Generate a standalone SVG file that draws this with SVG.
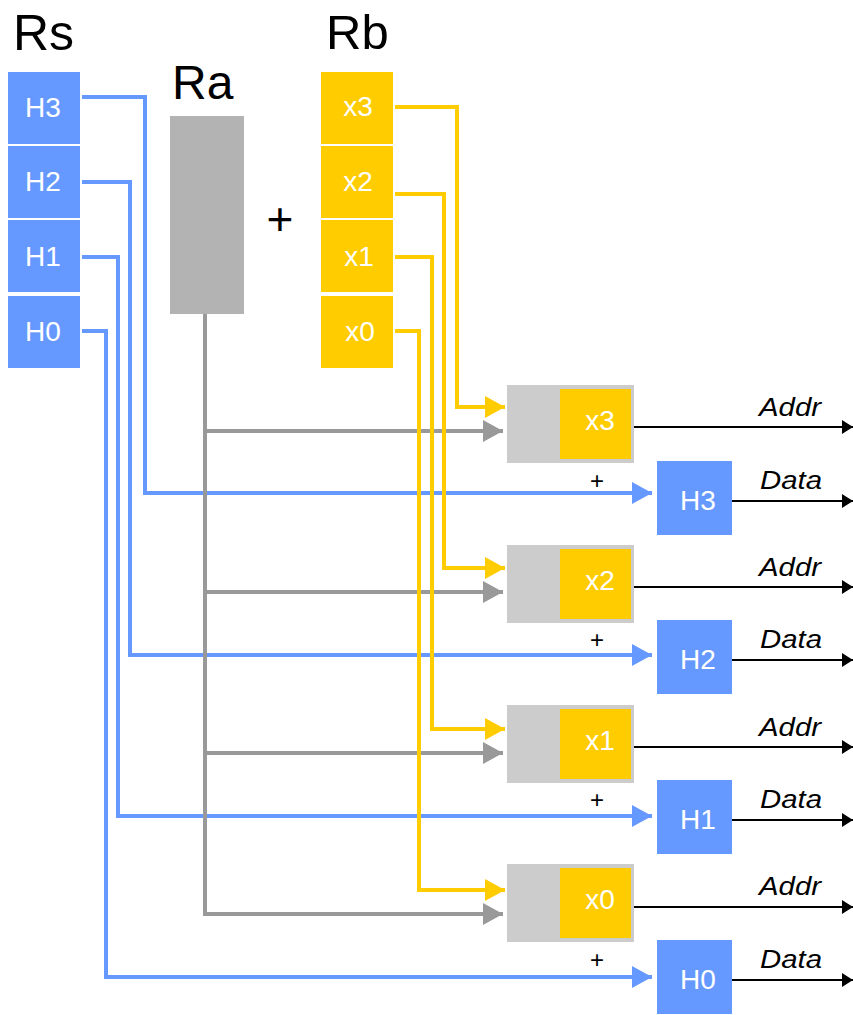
<svg xmlns="http://www.w3.org/2000/svg" width="853" height="1015" viewBox="0 0 853 1015">
<style>
text{font-family:"Liberation Sans",Arial,Helvetica,sans-serif;}
.big{font-size:50px;fill:#000;}
.lbl{font-size:28px;fill:#fff;text-anchor:middle;}
.io{font-size:26px;font-style:italic;fill:#000;}
.plus{fill:#000;text-anchor:middle;}
.blue{fill:#6699ff;}
.yel{fill:#ffcc00;}
.ra{fill:#b3b3b3;}
.blk{fill:#cccccc;}
.lb{fill:none;stroke:#6699ff;stroke-width:4;}
.ly{fill:none;stroke:#ffcc00;stroke-width:4;}
.lg{fill:none;stroke:#999999;stroke-width:4;}
.lk{fill:none;stroke:#000;stroke-width:2;}
</style>
<defs>
<marker id="ab" markerUnits="userSpaceOnUse" markerWidth="20" markerHeight="22" refX="20" refY="11" orient="auto"><path d="M0,0 L20,11 L0,22 z" fill="#6699ff"/></marker>
<marker id="ay" markerUnits="userSpaceOnUse" markerWidth="20" markerHeight="22" refX="20" refY="11" orient="auto"><path d="M0,0 L20,11 L0,22 z" fill="#ffcc00"/></marker>
<marker id="ag" markerUnits="userSpaceOnUse" markerWidth="20" markerHeight="22" refX="20" refY="11" orient="auto"><path d="M0,0 L20,11 L0,22 z" fill="#999999"/></marker>
<marker id="ak" markerUnits="userSpaceOnUse" markerWidth="11" markerHeight="14" refX="11" refY="7" orient="auto"><path d="M0,0 L11,7 L0,14 z" fill="#000"/></marker>
</defs>

<text class="big" x="13" y="50">Rs</text>
<text class="big" x="172" y="99" style="font-size:48px">Ra</text>
<text class="big" x="326" y="49" style="font-size:49px">Rb</text>
<text class="plus" x="280" y="235" style="font-size:46px">+</text>

<g id="Rs">
<g id="H3"><rect class="blue" x="8" y="72" width="72" height="72"/><text class="lbl" x="43" y="117">H3</text></g>
<g id="H2"><rect class="blue" x="8" y="146" width="72" height="72"/><text class="lbl" x="43" y="191">H2</text></g>
<g id="H1"><rect class="blue" x="8" y="220" width="72" height="72"/><text class="lbl" x="43" y="266">H1</text></g>
<g id="H0"><rect class="blue" x="8" y="296" width="72" height="72"/><text class="lbl" x="43" y="341">H0</text></g>
</g>
<g id="Ra"><rect class="ra" x="170" y="116" width="74" height="198"/></g>
<g id="Rb">
<g id="x3"><rect class="yel" x="321" y="72" width="72" height="72"/><text class="lbl" x="358" y="116">x3</text></g>
<g id="x2"><rect class="yel" x="321" y="146" width="72" height="72"/><text class="lbl" x="358" y="191">x2</text></g>
<g id="x1"><rect class="yel" x="321" y="220" width="72" height="72"/><text class="lbl" x="359" y="266">x1</text></g>
<g id="x0"><rect class="yel" x="321" y="296" width="72" height="72"/><text class="lbl" x="360" y="341">x0</text></g>
</g>

<g id="connectors">
<polyline class="lb" points="82,97 145,97 145,493 652,493" marker-end="url(#ab)"/>
<polyline class="lb" points="82,182 130,182 130,655 652,655" marker-end="url(#ab)"/>
<polyline class="lb" points="82,257 118,257 118,816 652,816" marker-end="url(#ab)"/>
<polyline class="lb" points="82,331 106,331 106,977 652,977" marker-end="url(#ab)"/>
<polyline class="lg" points="205,314 205,914 503,914" marker-end="url(#ag)"/>
<line class="lg" x1="205" y1="431" x2="503" y2="431" marker-end="url(#ag)"/>
<line class="lg" x1="205" y1="592" x2="503" y2="592" marker-end="url(#ag)"/>
<line class="lg" x1="205" y1="753" x2="503" y2="753" marker-end="url(#ag)"/>
<polyline class="ly" points="395,107 457,107 457,407 505,407" marker-end="url(#ay)"/>
<polyline class="ly" points="395,194 444,194 444,568 505,568" marker-end="url(#ay)"/>
<polyline class="ly" points="395,257 432,257 432,729 505,729" marker-end="url(#ay)"/>
<polyline class="ly" points="395,331 419,331 419,890 505,890" marker-end="url(#ay)"/>
<line class="lk" x1="634" y1="427" x2="853" y2="427" marker-end="url(#ak)"/>
<line class="lk" x1="732" y1="501" x2="853" y2="501" marker-end="url(#ak)"/>
<line class="lk" x1="634" y1="587" x2="853" y2="587" marker-end="url(#ak)"/>
<line class="lk" x1="732" y1="660" x2="853" y2="660" marker-end="url(#ak)"/>
<line class="lk" x1="634" y1="747" x2="853" y2="747" marker-end="url(#ak)"/>
<line class="lk" x1="732" y1="820" x2="853" y2="820" marker-end="url(#ak)"/>
<line class="lk" x1="634" y1="907" x2="853" y2="907" marker-end="url(#ak)"/>
<line class="lk" x1="732" y1="980" x2="853" y2="980" marker-end="url(#ak)"/>
</g>

<g id="addr3"><rect class="blk" x="507" y="385" width="127" height="78"/><rect class="yel" x="560" y="389" width="71" height="70"/><text class="lbl" x="600" y="430">x3</text></g>
<g id="addr2"><rect class="blk" x="507" y="545" width="127" height="78"/><rect class="yel" x="560" y="549" width="71" height="70"/><text class="lbl" x="600" y="590">x2</text></g>
<g id="addr1"><rect class="blk" x="507" y="705" width="127" height="78"/><rect class="yel" x="560" y="709" width="71" height="70"/><text class="lbl" x="600" y="750">x1</text></g>
<g id="addr0"><rect class="blk" x="507" y="864" width="127" height="78"/><rect class="yel" x="560" y="868" width="71" height="70"/><text class="lbl" x="600" y="909">x0</text></g>

<g id="data3"><rect class="blue" x="657" y="461" width="75" height="74"/><text class="lbl" x="698" y="510">H3</text></g>
<g id="data2"><rect class="blue" x="657" y="620" width="75" height="74"/><text class="lbl" x="698" y="669">H2</text></g>
<g id="data1"><rect class="blue" x="657" y="780" width="75" height="74"/><text class="lbl" x="698" y="829">H1</text></g>
<g id="data0"><rect class="blue" x="657" y="940" width="75" height="74"/><text class="lbl" x="698" y="989">H0</text></g>

<g id="labels">
<text class="plus" x="597" y="489" style="font-size:24px">+</text>
<text class="plus" x="597" y="648" style="font-size:24px">+</text>
<text class="plus" x="597" y="808" style="font-size:24px">+</text>
<text class="plus" x="597" y="968" style="font-size:24px">+</text>
<text class="io" x="759" y="416" textLength="62" lengthAdjust="spacingAndGlyphs">Addr</text>
<text class="io" x="760" y="489" textLength="62" lengthAdjust="spacingAndGlyphs">Data</text>
<text class="io" x="759" y="576" textLength="62" lengthAdjust="spacingAndGlyphs">Addr</text>
<text class="io" x="760" y="648" textLength="62" lengthAdjust="spacingAndGlyphs">Data</text>
<text class="io" x="759" y="736" textLength="62" lengthAdjust="spacingAndGlyphs">Addr</text>
<text class="io" x="760" y="808" textLength="62" lengthAdjust="spacingAndGlyphs">Data</text>
<text class="io" x="759" y="895" textLength="62" lengthAdjust="spacingAndGlyphs">Addr</text>
<text class="io" x="760" y="968" textLength="62" lengthAdjust="spacingAndGlyphs">Data</text>
</g>
</svg>
